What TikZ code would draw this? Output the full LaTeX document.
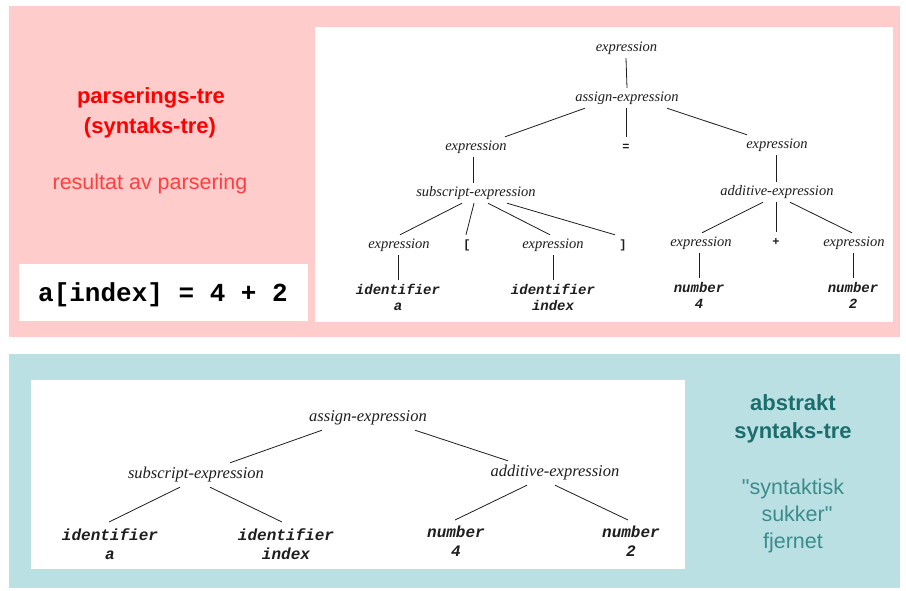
\documentclass[tikz,border=0pt]{standalone}
\usepackage{fontspec}
\setmainfont{Liberation Serif}
\newfontfamily\sansf{Liberation Sans}
\newfontfamily\monof{Liberation Mono}
\definecolor{pinkbg}{RGB}{255,204,204}
\definecolor{bluebg}{RGB}{187,224,227}
\definecolor{titlered}{RGB}{255,0,0}
\definecolor{subred}{RGB}{255,64,64}
\definecolor{titleteal}{RGB}{28,110,110}
\definecolor{subteal}{RGB}{60,140,140}
\definecolor{treeink}{RGB}{30,30,30}
\tikzset{
  lab/.style={font=\fontsize{14.5}{16}\selectfont\itshape, text=treeink, text height=6.5pt, text depth=0pt, minimum height=20pt, inner sep=0pt},
  sym/.style={font=\fontsize{12}{14}\selectfont\monof\bfseries, text=treeink, text height=6.5pt, text depth=0pt, minimum height=20pt, inner sep=0pt},
  labB/.style={font=\fontsize{16.5}{19}\selectfont\itshape, text=treeink, text height=7.5pt, text depth=0pt, minimum height=24pt, inner sep=0pt},
  leaf/.style={font=\fontsize{14}{16}\selectfont\monof\bfseries\itshape, text=treeink, align=center, anchor=north, inner xsep=0pt, inner ysep=4pt},
  leafB/.style={font=\fontsize{16}{19}\selectfont\monof\bfseries\itshape, text=treeink, align=center, anchor=north, inner xsep=0pt, inner ysep=6pt},
  edge/.style={draw=treeink, line width=0.8pt},
  titleA/.style={font=\fontsize{22}{26}\selectfont\sansf\bfseries, text=titlered, anchor=base, inner sep=0pt},
  subA/.style={font=\fontsize{21.5}{26}\selectfont\sansf, text=subred, anchor=base, inner sep=0pt},
  titleB/.style={font=\fontsize{22}{26}\selectfont\sansf\bfseries, text=titleteal, anchor=base, inner sep=0pt},
  subB/.style={font=\fontsize{21.5}{26}\selectfont\sansf, text=subteal, anchor=base, inner sep=0pt},
  codetext/.style={font=\fontsize{26}{28}\selectfont\monof\bfseries, text=black, anchor=base, inner sep=0pt}
}
\begin{document}
\begin{tikzpicture}[x=1pt,y=-1pt]
\useasboundingbox (0,0) rectangle (906,590);
\fill[white] (0,0) rectangle (906,590);
% panels
\fill[pinkbg] (9,6) rectangle (900,337);
\fill[white] (315,27) rectangle (893,322);
\fill[white] (19,264) rectangle (308,321);
\fill[bluebg] (9,354) rectangle (900,588);
\fill[white] (31,380) rectangle (685,569);

% left texts
\node[titleA] (pt1) at (151,103) {parserings-tre};
\node[titleA] (pt2) at (150,133) {(syntaks-tre)};
\node[subA] (pt3) at (150,189) {resultat av parsering};
\node[codetext] (code) at (163,301) {a[index] = 4 + 2};

% right texts
\node[titleB] (at1) at (793,410) {abstrakt};
\node[titleB] (at2) at (793,438) {syntaks-tre};
\node[subB] (at3) at (793,494) {"syntaktisk};
\node[subB] (at4) at (797,521) {sukker"};
\node[subB] (at5) at (793,548) {fjernet};

% parse tree
\node[lab] (t0) at (626.5,48) {expression};
\node[lab] (t1) at (627,98) {assign-expression};
\node[lab] (t2) at (476,147) {expression};
\node[sym] (t3) at (626,147) {=};
\node[lab] (t4) at (777,145) {expression};
\node[lab] (t5) at (476,193) {subscript-expression};
\node[lab] (t6) at (777,192) {additive-expression};
\node[lab] (t7) at (399,245) {expression};
\node[sym] (t8) at (467,245) {[};
\node[lab] (t9) at (553,245) {expression};
\node[sym] (t10) at (623,245) {]};
\node[lab] (t11) at (701,243) {expression};
\node[sym] (t12) at (776,242) {+};
\node[lab] (t13) at (854,243) {expression};
\node[leaf] (t14) at (398,280) {identifier\\a};
\node[leaf] (t15) at (553,280) {identifier\\index};
\node[leaf] (t16) at (699,278) {number\\4};
\node[leaf] (t17) at (853,278) {number\\2};

\draw[edge] ([xshift=-0.5pt]t0.south) -- (t1.north);
\draw[edge] ([xshift=-42pt]t1.south) -- ([xshift=29pt]t2.north);
\draw[edge] ([xshift=-1pt]t1.south) -- (t3.north);
\draw[edge] ([xshift=40pt]t1.south) -- ([xshift=-30pt]t4.north);
\draw[edge] ([xshift=-3pt]t2.south) -- ([xshift=-3pt]t5.north);
\draw[edge] ([xshift=-1pt]t4.south) -- ([xshift=-1pt]t6.north);
\draw[edge] ([xshift=-14pt]t5.south) -- ([xshift=1pt]t7.north);
\draw[edge] ([xshift=-2pt]t5.south) -- ([xshift=-1pt]t8.north);
\draw[edge] ([xshift=12pt]t5.south) -- ([xshift=-3pt]t9.north);
\draw[edge] ([xshift=31pt]t5.south) -- ([xshift=-8pt]t10.north);
\draw[edge] ([xshift=-14pt]t6.south) -- ([xshift=1pt]t11.north);
\draw[edge] ([xshift=-1pt]t6.south) -- (t12.north);
\draw[edge] ([xshift=13pt]t6.south) -- ([xshift=-2pt]t13.north);
\draw[edge] ([xshift=-1pt]t7.south) -- (t14.north);
\draw[edge] (t9.south) -- (t15.north);
\draw[edge] ([xshift=-2pt]t11.south) -- (t16.north);
\draw[edge] ([xshift=-1pt]t13.south) -- (t17.north);

% abstract syntax tree
\node[labB] (b0) at (368,418) {assign-expression};
\node[labB] (b1) at (196,475) {subscript-expression};
\node[labB] (b2) at (555,473) {additive-expression};
\node[leafB] (b3) at (110,522) {identifier\\a};
\node[leafB] (b4) at (286,522) {identifier\\index};
\node[leafB] (b5) at (456,520) {number\\4};
\node[leafB] (b6) at (631,520) {number\\2};

\draw[edge] ([xshift=-46pt]b0.south) -- ([xshift=34pt]b1.north);
\draw[edge] ([xshift=47pt]b0.south) -- ([xshift=-47pt]b2.north);
\draw[edge] ([xshift=-16pt]b1.south) -- ([xshift=-1pt]b3.north);
\draw[edge] ([xshift=14pt]b1.south) -- ([xshift=-4pt]b4.north);
\draw[edge] ([xshift=-28pt]b2.south) -- ([xshift=-1pt]b5.north);
\draw[edge] (b2.south) -- ([xshift=-3pt]b6.north);
\end{tikzpicture}
\end{document}
